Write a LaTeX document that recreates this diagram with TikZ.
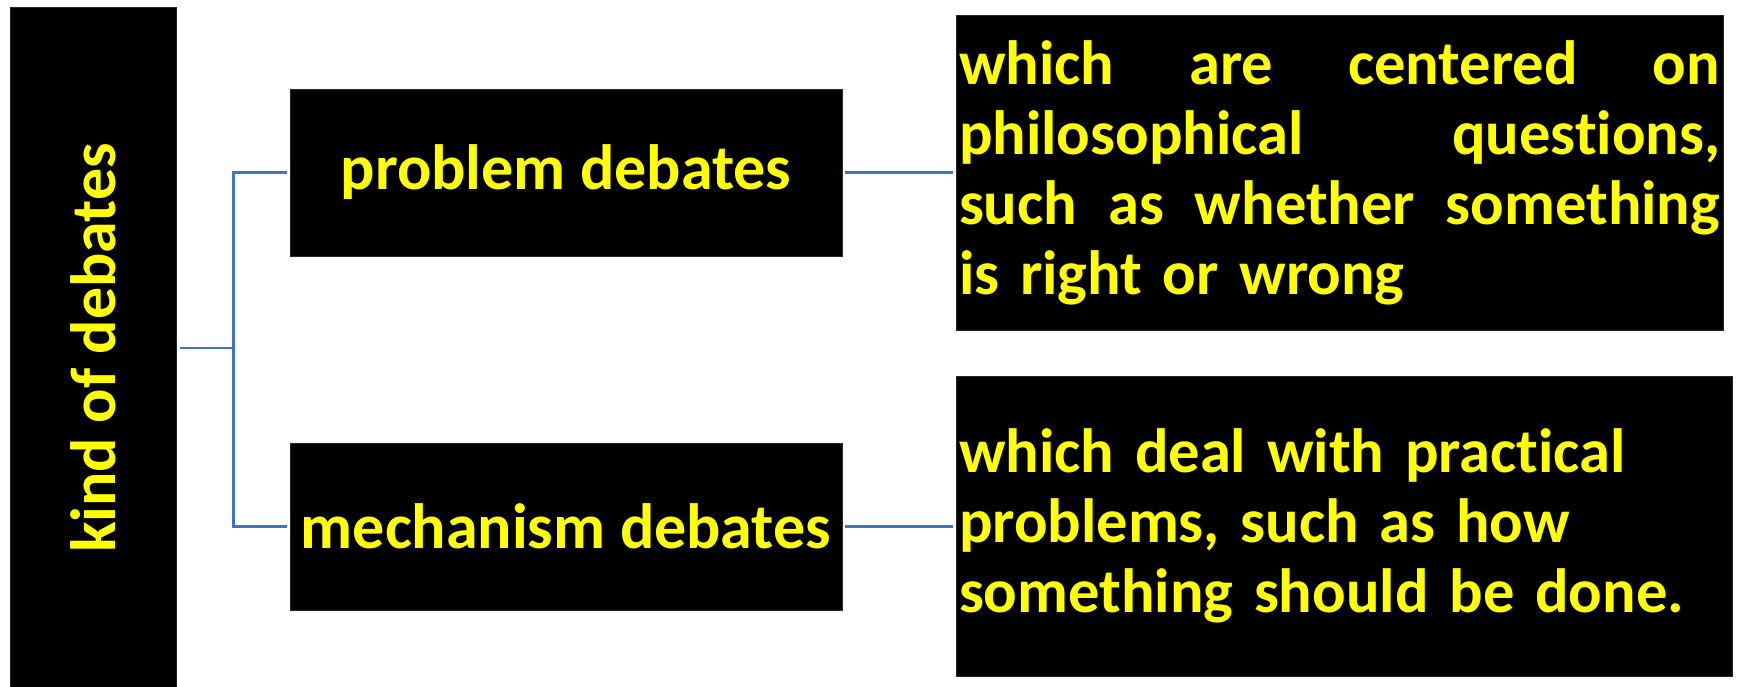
\documentclass[tikz,border=0pt]{standalone}
\usepackage{fontspec}
\setmainfont{Carlito}[Ligatures=CommonOff]
\definecolor{ylw}{HTML}{FFFF00}
\definecolor{connc}{HTML}{4472C4}
\begin{document}
\begin{tikzpicture}[x=1pt,y=-1pt,
  blk/.style={fill=black, draw=black!85!white, line width=0.6pt, inner sep=0pt,
    font=\bfseries\fontsize{64}{70}\selectfont, text=ylw},
  rtxt/.style={font=\bfseries\fontsize{62.5}{70}\selectfont},
  link/.style={draw=connc, line width=2.4pt}]
\useasboundingbox[fill=white] (0,0) rectangle (1737,687);
\node[blk, minimum width=166pt, minimum height=682pt] (kind) at (93,348) {\rotatebox{90}{kind of debates}};
\node[blk, minimum width=552pt, minimum height=167pt] (prob) at (566,172.5) {problem debates};
\node[blk, minimum width=552pt, minimum height=167pt] (mech) at (566,526.5) {mechanism debates};
\node[blk, rtxt, minimum width=767pt, minimum height=315pt, text width=761pt, inner xsep=3pt, align=left] (rtop) at (1339.5,172.5)
  {\makebox[761pt][s]{which\hfill are\hfill centered\hfill on}\\
   \makebox[761pt][s]{philosophical\hfill questions,}\\
   \makebox[761pt][s]{such\hfill as\hfill whether\hfill something}\\
   is right or wrong};
\node[blk, rtxt, minimum width=776pt, minimum height=300pt, text width=770pt, inner xsep=3pt, align=left] (rbot) at (1344,526)
  {which deal with practical\\ problems, such as how\\ something should be done.};
\draw[link] ([xshift=4pt]kind.east) -- ++(53,0) coordinate (j);
\draw[link] ([xshift=-3pt]prob.west) -| (j) |- ([xshift=-3pt]mech.west);
\draw[link] ([xshift=3pt]prob.east) -- ([xshift=-3pt]rtop.west |- prob.east);
\draw[link] ([xshift=3pt]mech.east) -- ([xshift=-3pt]rbot.west |- mech.east);
\end{tikzpicture}
\end{document}
